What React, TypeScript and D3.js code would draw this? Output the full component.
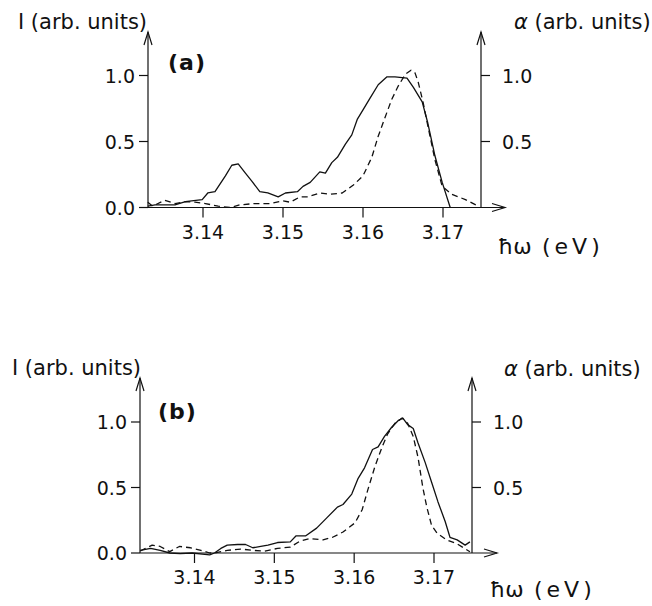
import React from 'react';
import * as d3 from 'd3';

// ---------- data ----------
const xTickValues = [3.14, 3.15, 3.16, 3.17];
const leftTickValues = [0, 0.5, 1.0];
const rightTickValues = [0.5, 1.0];

// Panel (a): luminescence I (solid)
const aSolidE = [3.1331, 3.134, 3.1365, 3.1378, 3.1399, 3.1406, 3.1415, 3.1428, 3.1436, 3.1444, 3.1453, 3.1461, 3.1471, 3.1481, 3.1494, 3.1503, 3.1518, 3.1525, 3.1534, 3.1546, 3.1553, 3.1561, 3.1568, 3.1578, 3.1586, 3.1593, 3.16, 3.1609, 3.1619, 3.163, 3.164, 3.1655, 3.1663, 3.1674, 3.1681, 3.169, 3.1699, 3.1709];
const aSolidI = [0.01, 0.02, 0.02, 0.045, 0.06, 0.11, 0.12, 0.24, 0.32, 0.33, 0.26, 0.2, 0.12, 0.11, 0.08, 0.11, 0.12, 0.16, 0.19, 0.27, 0.26, 0.34, 0.38, 0.48, 0.55, 0.67, 0.74, 0.83, 0.93, 0.99, 0.99, 0.98, 0.91, 0.8, 0.64, 0.39, 0.19, 0.0];
// Panel (a): absorption alpha (dashed)
const aDashE = [3.1331, 3.1337, 3.1352, 3.1365, 3.1378, 3.139, 3.1403, 3.1419, 3.1434, 3.1446, 3.1465, 3.1484, 3.15, 3.1509, 3.1521, 3.1531, 3.1546, 3.1559, 3.1574, 3.1588, 3.16, 3.1611, 3.1619, 3.1628, 3.1636, 3.1644, 3.1653, 3.166, 3.1665, 3.1669, 3.1675, 3.1681, 3.169, 3.1699, 3.1711, 3.1728, 3.1744];
const aDashA = [0.04, 0.01, 0.055, 0.03, 0.045, 0.04, 0.03, 0.01, 0.0, 0.02, 0.03, 0.03, 0.05, 0.04, 0.08, 0.08, 0.11, 0.1, 0.11, 0.17, 0.24, 0.38, 0.54, 0.69, 0.82, 0.92, 1.01, 1.04, 1.02, 0.95, 0.8, 0.62, 0.36, 0.16, 0.1, 0.06, 0.01];

// Panel (b): luminescence I (solid)
const bSolidE = [3.1332, 3.1345, 3.1357, 3.1369, 3.1382, 3.1397, 3.1413, 3.1419, 3.1425, 3.1433, 3.1441, 3.1454, 3.1464, 3.1473, 3.1483, 3.1492, 3.1504, 3.152, 3.1527, 3.1539, 3.1553, 3.1566, 3.1579, 3.1586, 3.1597, 3.1605, 3.1613, 3.1623, 3.163, 3.1638, 3.1647, 3.1655, 3.1661, 3.1667, 3.1674, 3.168, 3.1689, 3.1697, 3.1705, 3.1714, 3.172, 3.1729, 3.1739, 3.1745];
const bSolidI = [0.02, 0.035, 0.02, 0.0, -0.005, 0.0, -0.01, -0.015, 0.0, 0.035, 0.06, 0.065, 0.065, 0.04, 0.05, 0.06, 0.08, 0.085, 0.13, 0.13, 0.19, 0.27, 0.35, 0.37, 0.45, 0.57, 0.65, 0.79, 0.81, 0.89, 0.96, 1.01, 1.03, 0.98, 0.95, 0.84, 0.69, 0.54, 0.39, 0.24, 0.12, 0.1, 0.06, 0.085];
// Panel (b): absorption alpha (dashed)
const bDashE = [3.1332, 3.1347, 3.1357, 3.1369, 3.1381, 3.1395, 3.1408, 3.1419, 3.1425, 3.1441, 3.1458, 3.1473, 3.1488, 3.1504, 3.152, 3.1532, 3.1544, 3.1561, 3.1573, 3.1586, 3.1601, 3.161, 3.1617, 3.1626, 3.1635, 3.1642, 3.1651, 3.166, 3.1667, 3.1674, 3.168, 3.1686, 3.1691, 3.1697, 3.1704, 3.1716, 3.1729, 3.1745];
const bDashA = [0.015, 0.06, 0.05, 0.01, 0.05, 0.04, 0.02, 0.0, 0.0, 0.02, 0.03, 0.02, 0.015, 0.035, 0.045, 0.09, 0.11, 0.1, 0.12, 0.16, 0.23, 0.33, 0.48, 0.66, 0.81, 0.91, 0.99, 1.03, 0.99, 0.89, 0.73, 0.5, 0.35, 0.21, 0.15, 0.1, 0.07, 0.01];

const xTickLabels = ['3.14', '3.15', '3.16', '3.17'];
const leftTickLabels = ['0.0', '0.5', '1.0'];
const rightTickLabels = ['0.5', '1.0'];

// ---------- layout ----------
type PanelCfg = {
  tag: string;
  x314: number; x317: number; y0: number; y1: number;
  left: number; right: number; top: number; arrowEnd: number;
  tagX: number; tagY: number;
  iX: number; iY: number; alphaX: number; alphaY: number;
  hwX: number; hwY: number;
  solidE: number[]; solidV: number[]; dashE: number[]; dashV: number[];
};

const panels: PanelCfg[] = [
  {
    tag: '(a)', x314: 203, x317: 443, y0: 207.5, y1: 75.5,
    left: 148, right: 481, top: 32, arrowEnd: 505,
    tagX: 168, tagY: 70, iX: 18, iY: 29, alphaX: 514, alphaY: 29,
    hwX: 498, hwY: 254,
    solidE: aSolidE, solidV: aSolidI, dashE: aDashE, dashV: aDashA,
  },
  {
    tag: '(b)', x314: 194.5, x317: 434, y0: 553, y1: 422,
    left: 140, right: 472, top: 378, arrowEnd: 497,
    tagX: 158, tagY: 419, iX: 12, iY: 375, alphaX: 504, alphaY: 376,
    hwX: 490, hwY: 597,
    solidE: bSolidE, solidV: bSolidI, dashE: bDashE, dashV: bDashA,
  },
];

const INK = '#111';
const FONT = '"DejaVu Sans", sans-serif';

function Panel({ p }: { p: PanelCfg }) {
  const x = d3.scaleLinear().domain([3.14, 3.17]).range([p.x314, p.x317]);
  const y = d3.scaleLinear().domain([0, 1]).range([p.y0, p.y1]);
  const line = d3.line<[number, number]>().x(d => x(d[0])).y(d => y(d[1]));
  const solid = line(p.solidE.map((e, i) => [e, p.solidV[i]] as [number, number])) || '';
  const dash = line(p.dashE.map((e, i) => [e, p.dashV[i]] as [number, number])) || '';
  const sw = 1.2;
  return (
    <g fill="none" stroke={INK} strokeWidth={sw}>
      {/* axes */}
      <line x1={p.left} y1={p.y0} x2={p.arrowEnd} y2={p.y0} />
      <polyline points={`${p.arrowEnd - 13},${p.y0 - 4} ${p.arrowEnd},${p.y0} ${p.arrowEnd - 13},${p.y0 + 4}`} />
      <line x1={p.left} y1={p.y0} x2={p.left} y2={p.top} />
      <polyline points={`${p.left - 4},${p.top + 13} ${p.left},${p.top} ${p.left + 4},${p.top + 13}`} />
      <line x1={p.right} y1={p.y0} x2={p.right} y2={p.top} />
      <polyline points={`${p.right - 4},${p.top + 13} ${p.right},${p.top} ${p.right + 4},${p.top + 13}`} />
      {/* x ticks */}
      {xTickValues.map((v, i) => (
        <g key={'xt' + i}>
          <line x1={x(v)} x2={x(v)} y1={p.y0} y2={p.y0 + 10} />
          <text x={x(v)} y={p.y0 + 31} textAnchor="middle" fill={INK} stroke="none"
            fontFamily={FONT} fontSize={19}>{xTickLabels[i]}</text>
        </g>
      ))}
      {/* left ticks */}
      {leftTickValues.map((v, i) => (
        <g key={'lt' + i}>
          <line x1={p.left - 9} x2={p.left} y1={y(v)} y2={y(v)} />
          <text x={p.left - 13} y={y(v) + 7} textAnchor="end" fill={INK} stroke="none"
            fontFamily={FONT} fontSize={19}>{leftTickLabels[i]}</text>
        </g>
      ))}
      {/* right ticks */}
      {rightTickValues.map((v, i) => (
        <g key={'rt' + i}>
          <line x1={p.right} x2={p.right + 9} y1={y(v)} y2={y(v)} />
          <text x={p.right + 21} y={y(v) + 7} textAnchor="start" fill={INK} stroke="none"
            fontFamily={FONT} fontSize={19}>{rightTickLabels[i]}</text>
        </g>
      ))}
      {/* curves */}
      <path d={solid} strokeWidth={1.3} strokeLinejoin="round" />
      <path d={dash} strokeWidth={1.3} strokeDasharray="6,4" strokeLinejoin="round" />
      {/* labels */}
      <text x={p.tagX} y={p.tagY} fill={INK} stroke="none" fontFamily={FONT} fontSize={22}
        fontWeight="bold" letterSpacing={1}>{p.tag}</text>
      <text x={p.iX} y={p.iY} fill={INK} stroke="none" fontFamily={FONT} fontSize={21}>I (arb. units)</text>
      <text x={p.alphaX} y={p.alphaY} fill={INK} stroke="none" fontFamily={FONT} fontSize={21}>
        <tspan fontStyle="italic">α</tspan> (arb. units)</text>
      <text x={p.hwX} y={p.hwY} fill={INK} stroke="none" fontFamily={FONT} fontSize={22}>ħω</text>
      <text x={p.hwX + 44} y={p.hwY} fill={INK} stroke="none" fontFamily={FONT} fontSize={22}
        letterSpacing={4}>(eV)</text>
    </g>
  );
}

export default function App() {
  return (
    <svg width={652} height={606} viewBox="0 0 652 606"
      style={{ position: 'absolute', left: 0, top: 0, background: '#fff' }}>
      <rect x={0} y={0} width={652} height={606} fill="#fff" />
      {panels.map(p => <Panel key={p.tag} p={p} />)}
    </svg>
  );
}
